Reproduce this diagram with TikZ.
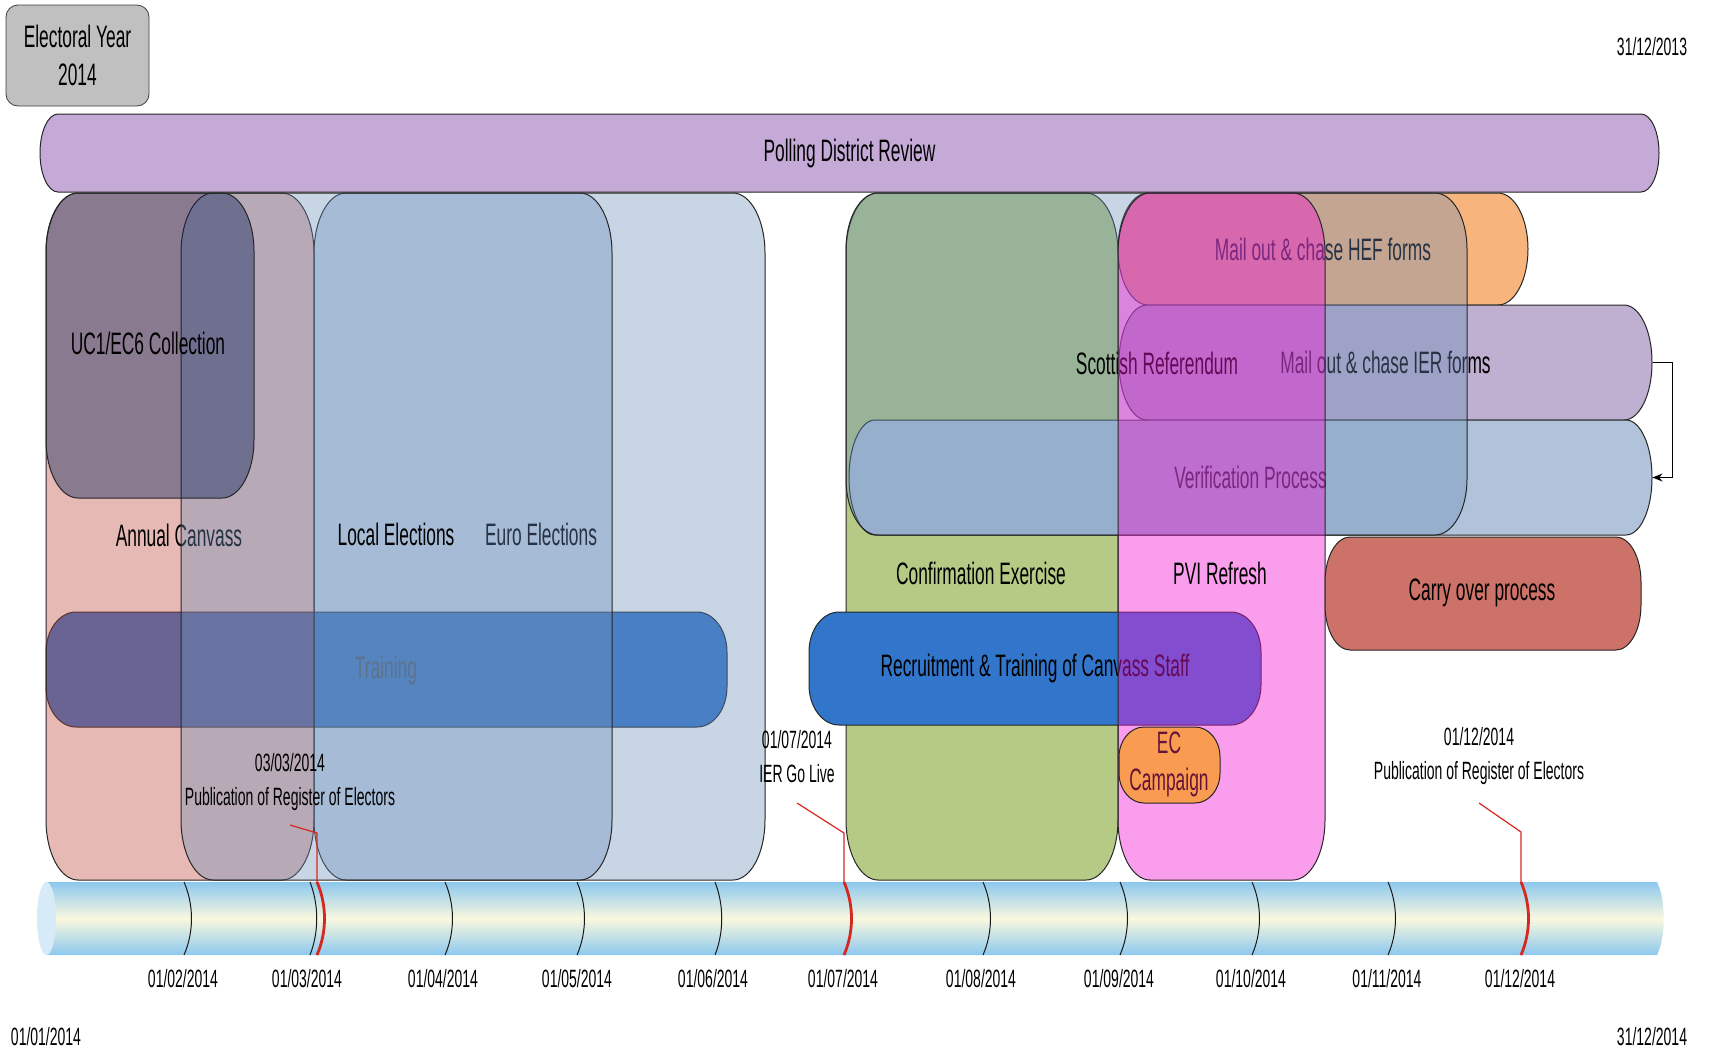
\documentclass[tikz,border=0pt]{standalone}
\usepackage{fontspec}
\setmainfont{Liberation Sans}[FakeStretch=0.56]
\usetikzlibrary{arrows.meta}

\definecolor{pollc}{RGB}{197,170,215}
\definecolor{trainc}{RGB}{55,119,204}
\definecolor{annualc}{RGB}{189,71,58}
\definecolor{electc}{RGB}{106,141,185}
\definecolor{ucc}{RGB}{11,35,92}
\definecolor{confc}{RGB}{181,202,133}
\definecolor{hefc}{RGB}{247,180,124}
\definecolor{ierc}{RGB}{191,175,208}
\definecolor{verifc}{RGB}{176,195,218}
\definecolor{recruitc}{RGB}{50,118,204}
\definecolor{pvic}{RGB}{243,22,212}
\definecolor{ecc}{RGB}{249,156,82}
\definecolor{ectext}{RGB}{100,20,55}
\definecolor{carryc}{RGB}{205,114,104}
\definecolor{barblue}{RGB}{140,200,238}
\definecolor{barcream}{RGB}{250,248,222}
\definecolor{barcap}{RGB}{214,234,248}
\definecolor{leadred}{RGB}{214,40,32}
\definecolor{eyear}{RGB}{192,192,192}

\begin{document}
\begin{tikzpicture}[x=0.5pt, y=-0.5pt,
    capsule/.style n args={6}{insert path={
        (#1,#2+#6) arc[start angle=180, end angle=270, x radius=#5, y radius=#6]
        -- (#3-#5,#2) arc[start angle=270, end angle=360, x radius=#5, y radius=#6]
        -- (#3,#4-#6) arc[start angle=0, end angle=90, x radius=#5, y radius=#6]
        -- (#1+#5,#4) arc[start angle=90, end angle=180, x radius=#5, y radius=#6]
        -- cycle}},
    outl/.style={draw=black!85, line width=0.5pt},
    solidbox/.style={outl, fill=#1},
    glass/.style 2 args={outl, fill=#1, fill opacity=#2},
    lbl/.style={font=\fontsize{15.5}{19}\selectfont, text=black, text opacity=1, align=center, inner sep=0pt},
    datelbl/.style={font=\fontsize{12.5}{17}\selectfont, text=black, align=center, inner sep=0pt},
    monthtick/.style={draw=black!90, line width=0.5pt},
    redtick/.style={draw=leadred, line width=1.4pt},
    leader/.style={draw=leadred, line width=0.6pt},
    backarrow/.style={-{Stealth[length=5pt, width=4pt]}, line width=0.6pt}
]
\useasboundingbox (0,0) rectangle (1709,1051);

% header
\node[lbl, draw=black!75, fill=eyear, rounded corners=6pt, minimum width=71.5pt, minimum height=50.5pt] (year) at (77.5,55.5) {Electoral Year\\2014};
\node[datelbl] (yearend) at (1652,47) {31/12/2013};

\path[solidbox=pollc] [capsule={40}{114}{1659}{192}{18}{39}] node[lbl] (poll) at (849.5,153) {Polling District Review};

% first half of the year
\path[solidbox=trainc] [capsule={46}{612}{727}{727}{30}{40}] node[lbl, text=black!70] (training) at (386,670) {Training};
\path[glass={annualc}{0.38}] [capsule={46}{193}{314}{880}{32}{60}] node[lbl] (annual) at (179,535) {Annual Canvass};
\path[glass={electc}{0.37}] [capsule={314}{193}{765}{880}{32}{60}] node[lbl] (euro) at (541,534) {Euro Elections};
\path[glass={electc}{0.37}] [capsule={181}{193}{612}{880}{32}{60}] node[lbl] (local) at (396,534) {Local Elections};
\path[glass={ucc}{0.42}] [capsule={46}{193}{254}{498}{32}{58}] node[lbl] (uc1) at (148,343) {UC1/EC6 Collection};

% second half of the year
\path[solidbox=confc] [capsule={846}{193}{1118}{880}{32}{60}] node[lbl] (confirm) at (981,573) {Confirmation Exercise};
\path[solidbox=hefc] [capsule={1118}{193}{1528}{305}{30}{56}] node[lbl] (hef) at (1323,249) {Mail out \& chase HEF forms};
\path[solidbox=ierc] [capsule={1119}{305}{1652}{420}{28}{57}] node[lbl, minimum width=266.5pt, minimum height=57.5pt] (ier) at (1385.5,362.5) {Mail out \& chase IER forms};
\path[solidbox=verifc] [capsule={849}{420}{1652}{535}{26}{57}] node[lbl, minimum width=401.5pt, minimum height=57.5pt] (verif) at (1250.5,477.5) {Verification Process};
\path[glass={electc}{0.37}] [capsule={846}{193}{1467}{535}{32}{56}] node[lbl] (scot) at (1157,363) {Scottish Referendum};
\path[solidbox=recruitc] [capsule={809}{612}{1261}{725}{30}{40}] node[lbl] (recruit) at (1035,668) {Recruitment \& Training of Canvass Staff};
\path[glass={pvic}{0.42}] [capsule={1118}{193}{1325}{880}{32}{60}] node[lbl] (pvi) at (1220,573) {PVI Refresh};
\path[solidbox=ecc] [capsule={1119}{727}{1220}{803}{25}{30}] node[lbl, text=ectext, font=\fontsize{15.5}{18.5}\selectfont] (ec) at (1169,764) {EC\\Campaign};
\path[solidbox=carryc] [capsule={1325}{537}{1641}{650}{25}{45}] node[lbl] (carry) at (1482,593) {Carry over process};

\draw[backarrow] (ier.east) -- ++(20,0) |- (verif.east);

% timeline
\shade[top color=barblue, bottom color=barblue, middle color=barcream] (46.5,882) -- (1657,882) .. controls (1666,900) and (1666,937) .. (1657,955) -- (46.5,955) -- cycle;
\fill[barcap] (46.5,918.5) ellipse [x radius=9.5, y radius=36.5];

\draw[monthtick] (184,882) .. controls (194,905) and (194,932) .. (184,955);
\draw[monthtick] (310,882) .. controls (319,905) and (319,932) .. (310,955);
\draw[monthtick] (445,882) .. controls (455,905) and (455,932) .. (445,955);
\draw[monthtick] (577,882) .. controls (587,905) and (587,932) .. (577,955);
\draw[monthtick] (715,882) .. controls (724,905) and (724,932) .. (715,955);
\draw[monthtick] (983,882) .. controls (993,905) and (993,932) .. (983,955);
\draw[monthtick] (1120,882) .. controls (1130,905) and (1130,932) .. (1120,955);
\draw[monthtick] (1252,882) .. controls (1262,905) and (1262,932) .. (1252,955);
\draw[monthtick] (1388,882) .. controls (1398,905) and (1398,932) .. (1388,955);

\node[datelbl] (jan) at (46,1037) {01/01/2014};
\node[datelbl] (feb) at (183,979) {01/02/2014};
\node[datelbl] (mar) at (307,979) {01/03/2014};
\node[datelbl] (apr) at (443,979) {01/04/2014};
\node[datelbl] (may) at (577,979) {01/05/2014};
\node[datelbl] (jun) at (713,979) {01/06/2014};
\node[datelbl] (jul) at (843,979) {01/07/2014};
\node[datelbl] (aug) at (981,979) {01/08/2014};
\node[datelbl] (sep) at (1119,979) {01/09/2014};
\node[datelbl] (oct) at (1251,979) {01/10/2014};
\node[datelbl] (nov) at (1387,979) {01/11/2014};
\node[datelbl] (dec) at (1520,979) {01/12/2014};
\node[datelbl] (end) at (1652,1037) {31/12/2014};

% milestones
\node[datelbl] (pubmar) at (290,782) {03/03/2014\\Publication of Register of Electors};
\node[datelbl] (golive) at (797,757) {01/07/2014\\IER Go Live};
\node[datelbl] (pubdec) at (1479,756) {01/12/2014\\Publication of Register of Electors};

\coordinate (marlead) at (290,825);
\coordinate (marpin) at (317,882);
\coordinate (jullead) at (797,803);
\coordinate (julpin) at (844,882);
\coordinate (declead) at (1479,803);
\coordinate (decpin) at (1521,882);

\draw[leader] (marlead) -- (317,833) -- (marpin);
\draw[leader] (jullead) -- (844,833) -- (julpin);
\draw[leader] (declead) -- (1521,832) -- (decpin);

\draw[redtick] (marpin) .. controls (327,905) and (327,932) .. (317,955);
\draw[redtick] (julpin) .. controls (854,905) and (854,932) .. (844,955);
\draw[redtick] (decpin) .. controls (1531,905) and (1531,932) .. (1521,955);

\end{tikzpicture}
\end{document}
